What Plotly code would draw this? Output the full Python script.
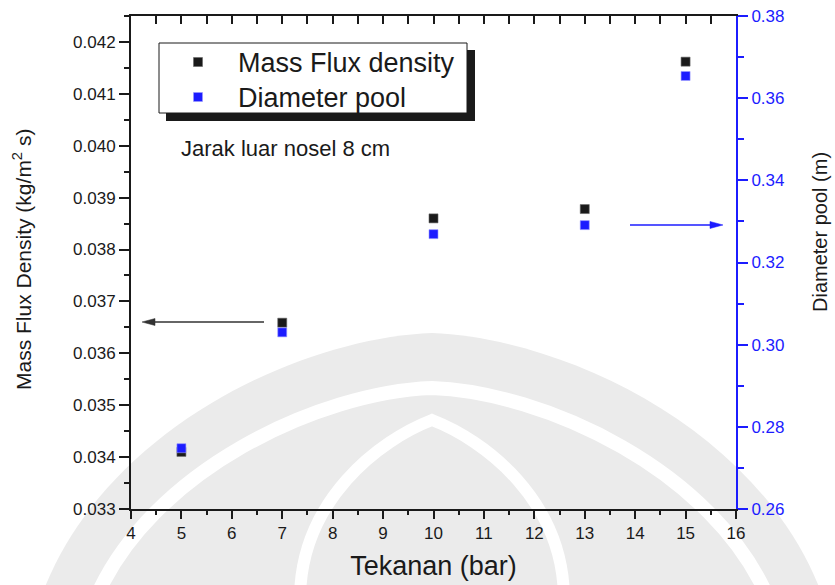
import plotly.graph_objects as go

# ---- data ----
pressure = [5, 7, 10, 13, 15]
mass_flux = [0.0341, 0.03659, 0.03860, 0.03878, 0.04162]
diameter = [0.2748, 0.3030, 0.3269, 0.3291, 0.3654]
series_names = ["Mass Flux density", "Diameter pool"]

x_range = [4, 16]
y1_range = [0.033, 0.0425]
y2_range = [0.26, 0.38]

FONT = "Arial, Liberation Sans, Helvetica, sans-serif"
BLUE = "#1c1cff"
BLACK = "#1a1a1a"
WM = "#ebebeb"

W, H = 835, 585
L, R, T, B = 131, 99, 16, 76


def px(xp):
    return (xp - L) / (W - L - R)


def py(yp):
    return (H - B - yp) / (H - T - B)


def path(cmds):
    out = []
    for c, pts in cmds:
        if c == "Z":
            out.append("Z")
        elif c == "L":
            for a, b in pts:
                out.append(f"L {px(a):.4f},{py(b):.4f}")
        else:
            out.append(c + " " + " ".join(f"{px(a):.4f},{py(b):.4f}" for a, b in pts))
    return " ".join(out)


fig = go.Figure()
fig.add_trace(go.Scatter(
    x=pressure, y=mass_flux, mode="markers", name=series_names[0], showlegend=False,
    marker=dict(symbol="square", size=9, color=BLACK, line=dict(width=0.6, color="#666")),
    yaxis="y", xaxis="x"))
fig.add_trace(go.Scatter(
    x=pressure, y=diameter, mode="markers", name=series_names[1], showlegend=False,
    marker=dict(symbol="square", size=9, color=BLUE, line=dict(width=0.6, color="#9a9aff")),
    yaxis="y2", xaxis="x"))
# invisible helper for top axis
fig.add_trace(go.Scatter(x=x_range, y=y1_range, mode="markers", xaxis="x2", yaxis="y",
                         marker=dict(opacity=0), showlegend=False, hoverinfo="skip"))

fig.update_layout(
    width=W, height=H,
    margin=dict(l=L, r=R, t=T, b=B, autoexpand=False),
    paper_bgcolor="white", plot_bgcolor="rgba(0,0,0,0)",
    font=dict(family=FONT, color="#1a1a1a", size=17),
    showlegend=False,
    xaxis=dict(range=x_range, dtick=1, tick0=4, ticks="outside", ticklen=8, tickwidth=1.5,
               tickcolor="#1a1a1a", showline=True, linecolor="#1a1a1a", linewidth=2,
               showgrid=False, zeroline=False, automargin=False,
               minor=dict(dtick=0.5, ticks="outside", ticklen=4, tickwidth=1.5, tickcolor="#1a1a1a"),
               title=dict(text="Tekanan (bar)", font=dict(size=27), standoff=14),
               tickfont=dict(size=17)),
    xaxis2=dict(range=x_range, overlaying="x", side="top", anchor="y", dtick=0.5, tick0=4,
                ticks="inside", ticklen=8, tickwidth=1.5, tickcolor="#1a1a1a",
                showticklabels=False, showline=True, linecolor="#1a1a1a", linewidth=2,
                showgrid=False, zeroline=False, automargin=False),
    yaxis=dict(range=y1_range, tick0=0.033, dtick=0.001, tickformat=".3f",
               ticks="outside", ticklen=10, tickwidth=1.5, tickcolor="#1a1a1a",
               showline=True, linecolor="#1a1a1a", linewidth=2, showgrid=False, zeroline=False,
               automargin=False,
               minor=dict(dtick=0.0005, ticks="outside", ticklen=5, tickwidth=1.5, tickcolor="#1a1a1a"),
               tickfont=dict(size=17)),
    yaxis2=dict(range=y2_range, overlaying="y", side="right", anchor="x", tick0=0.26, dtick=0.02,
                tickformat=".2f", ticks="outside", ticklen=10, tickwidth=1.5, tickcolor=BLUE,
                showline=True, linecolor=BLUE, linewidth=2, showgrid=False, zeroline=False,
                automargin=False,
                minor=dict(dtick=0.01, ticks="outside", ticklen=6, tickwidth=1.5, tickcolor=BLUE),
                tickfont=dict(size=17, color=BLUE)),
)

# ---- faint watermark (background logo) ----
fig.add_shape(type="path", xref="paper", yref="paper", layer="below",
              path=path([("M", [(40, 600)]), ("C", [(100, 430), (300, 338), (432, 333)]),
                         ("C", [(564, 338), (764, 430), (824, 600)]), ("Z", [])]),
              fillcolor=WM, line=dict(width=0))
fig.add_shape(type="path", xref="paper", yref="paper", layer="below",
              path=path([("M", [(95, 600)]), ("C", [(150, 470), (320, 392), (432, 388)]),
                         ("C", [(544, 392), (714, 470), (769, 600)])]),
              line=dict(color="white", width=14))
fig.add_shape(type="path", xref="paper", yref="paper", layer="below",
              path=path([("M", [(300, 600)]), ("C", [(300, 500), (380, 440), (432, 420)]),
                         ("C", [(484, 440), (564, 500), (564, 600)])]),
              line=dict(color="white", width=12))

# ---- legend box (with drop shadow) ----
fig.add_shape(type="rect", xref="paper", yref="paper", layer="above",
              x0=px(166), x1=px(475), y0=py(121), y1=py(50),
              fillcolor="#1a1a1a", line=dict(width=0))
fig.add_shape(type="rect", xref="paper", yref="paper", layer="above",
              x0=px(159), x1=px(467), y0=py(113), y1=py(43),
              fillcolor="white", line=dict(color="#1a1a1a", width=1))
for (yc, col, edge, name) in [(62, BLACK, "#666", series_names[0]),
                              (97, BLUE, "#9a9aff", series_names[1])]:
    fig.add_shape(type="rect", xref="paper", yref="paper", layer="above",
                  x0=px(193.5), x1=px(202.5), y0=py(yc + 4.5), y1=py(yc - 4.5),
                  fillcolor=col, line=dict(color=edge, width=0.6))
    fig.add_annotation(text=name, xref="paper", yref="paper", x=px(236), y=py(yc + 1),
                       xanchor="left", yanchor="middle", showarrow=False,
                       font=dict(size=27, family=FONT, color="#1a1a1a"))

# axis titles
fig.add_annotation(text="Mass Flux Density (kg/m<sup>2</sup> s)", xref="paper", yref="paper",
                   x=px(22), y=py(260), textangle=-90, showarrow=False,
                   xanchor="center", yanchor="middle", font=dict(size=21, family=FONT, color="#1a1a1a"))
fig.add_annotation(text="Diameter pool (m)", xref="paper", yref="paper",
                   x=px(820), y=py(232), textangle=-90, showarrow=False,
                   xanchor="center", yanchor="middle", font=dict(size=20, family=FONT, color="#1a1a1a"))

fig.add_annotation(text="Jarak luar nosel 8 cm", xref="paper", yref="paper",
                   x=px(179), y=py(148), xanchor="left", yanchor="middle",
                   showarrow=False, font=dict(size=22, family=FONT, color="#1a1a1a"))


# ---- arrows pointing to each series' axis (drawn as shapes) ----
def arrow(x_tail_px, x_tip_px, y_px, color, width):
    d = 1 if x_tip_px > x_tail_px else -1
    fig.add_shape(type="line", xref="paper", yref="paper", layer="above",
                  x0=px(x_tail_px), x1=px(x_tip_px - d * 10), y0=py(y_px), y1=py(y_px),
                  line=dict(color=color, width=width))
    fig.add_shape(type="path", xref="paper", yref="paper", layer="above",
                  path=path([("M", [(x_tip_px, y_px)]),
                             ("L", [(x_tip_px - d * 13, y_px - 3.5), (x_tip_px - d * 13, y_px + 3.5)]),
                             ("Z", [])]),
                  fillcolor=color, line=dict(color=color, width=0.5))


arrow(264, 142, 322, "#333333", 1.5)
arrow(630, 723, 225, BLUE, 1.5)

fig.write_html("out.html")
